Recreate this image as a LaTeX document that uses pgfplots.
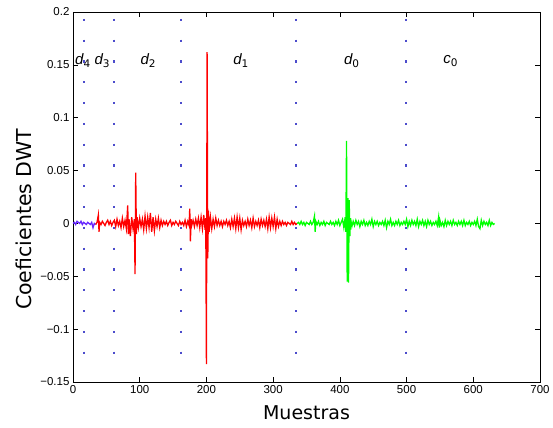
\documentclass[border=0pt]{standalone}
\usepackage{pgfplots}
\pgfplotsset{compat=1.18}
\usepackage{fontspec}
\setmainfont{Liberation Sans}
\newfontfamily\labfont{DejaVu Sans}
\definecolor{sigblue}{rgb}{0.4,0.15,1}
\definecolor{dotblue}{rgb}{0.3,0.3,0.8}
\begin{document}
\begin{tikzpicture}
\useasboundingbox (-73bp,-46bp) rectangle (480bp,382bp);
\begin{axis}[
  scale only axis, width=467bp, height=370bp,
  xmin=0, xmax=700, ymin=-0.15, ymax=0.2,
  xtick={0,100,...,700}, ytick={-0.15,-0.1,-0.05,0,0.05,0.1,0.15,0.2},
  yticklabels={−0.15,−0.1,−0.05,0,0.05,0.1,0.15,0.2},
  xticklabels={0,100,200,300,400,500,600,700},
  tick align=inside, tick pos=both, major tick length=5bp,
  tick style={black, line width=0.6bp},
  axis line style={line width=0.9bp},
  ticklabel style={font=\fontsize{11.5bp}{13bp}\selectfont},
  xlabel={\labfont\fontsize{19bp}{22bp}\selectfont Muestras},
  ylabel={\labfont\fontsize{20.5bp}{23bp}\selectfont Coeficientes DWT},
  xlabel style={yshift=-5bp},
  ylabel style={at={(ticklabel cs:0.44)}, yshift=2bp},
  clip=true,
]
% dotted separators
\foreach \xx in {17,62,162,334,499}{
  \edef\tmp{\noexpand\addplot[dotblue, line width=2.2bp, dash pattern=on 2.2bp off 18.6bp] coordinates {(\xx,0.1935) (\xx,-0.125)};}
  \tmp
}
% blue segment
\addplot[sigblue, line width=1.3bp] coordinates {
(0,0.000) (2,0.001) (4,-0.001) (6,0.002) (8,0.001) (10,0.000) (12,0.002) (14,-0.001) (16,0.001) (18,0.000) (20,-0.001) (22,0.001) (24,0.000) (26,-0.001) (28,0.001) (30,-0.004) (32,0.000) (34,-0.001)
};
% red segment
\addplot[red, line width=1.3bp] coordinates {
(34,-0.001) (36,0.001) (38,0.008) (39,-0.008) (40,0.001) (42,-0.001) (44,0.002) (46,0.000) (48,-0.002) (50,0.001) (52,0.003) (54,-0.001) (56,0.002) (58,-0.002) (60,0.001) (62,0.003) (64,-0.003) (66,0.004) (68,-0.002) (70,0.002) (72,-0.004) (74,0.005) (76,-0.003) (78,0.003) (80,-0.005) (82,0.017) (83,-0.010) (84,0.004) (86,-0.012) (88,0.006) (90,-0.005) (92,0.004) (93,-0.048) (94,0.048) (95,-0.010) (96,0.006) (98,-0.004) (100,0.005) (102,-0.003) (104,0.004) (106,-0.006) (108,0.007) (110,-0.005) (112,0.006) (114,-0.004) (116,0.010) (118,-0.008) (120,0.006) (122,-0.007) (124,0.004) (126,-0.003) (128,0.005) (130,-0.004) (132,0.003) (134,-0.002) (136,0.002) (138,-0.001) (140,0.002) (142,-0.002) (144,0.001) (146,0.003) (148,-0.002) (150,0.001) (152,-0.001) (154,0.002) (156,0.000) (158,-0.002) (160,0.002) (162,-0.001) (164,0.001) (166,-0.002) (168,0.003) (170,-0.003) (172,0.002) (174,-0.002) (175,0.014) (176,-0.017) (177,0.004) (178,-0.002) (180,0.003) (182,-0.003) (184,0.004) (186,-0.002) (188,0.005) (190,-0.004) (192,0.006) (194,-0.005) (196,0.008) (198,-0.006) (199,0.005) (200,-0.133) (201,0.162) (202,-0.033) (203,0.012) (204,-0.008) (206,0.006) (208,-0.005) (210,0.004) (212,-0.003) (214,0.005) (216,-0.002) (218,0.003) (220,-0.002) (222,0.002)
(224,-0.003) (226,0.002) (228,-0.001) (230,0.003) (232,-0.002) (234,0.002) (236,-0.004) (238,0.004) (240,-0.003) (242,0.005) (244,-0.005) (246,0.006) (248,-0.004) (250,0.005) (252,-0.006) (254,0.003) (256,-0.002) (258,0.002) (260,-0.003) (262,0.004) (264,-0.002) (266,0.003) (268,-0.004) (270,0.005) (272,-0.003) (274,0.002) (276,-0.002) (278,0.003) (280,-0.004) (282,0.004) (284,-0.002) (286,0.003) (288,-0.003) (290,0.004) (292,-0.005) (294,0.006) (296,-0.004) (298,0.005) (300,-0.003) (302,0.006) (304,-0.005) (306,0.004) (308,-0.003) (310,0.002) (312,-0.002) (314,0.002) (316,-0.001) (318,0.001) (320,-0.002) (322,0.001) (324,0.000) (326,-0.001) (328,0.002) (330,-0.001) (332,0.001) (334,-0.001) (336,0.000)
};
% green segment
\addplot[green, line width=1.3bp] coordinates {
(336,0.000) (338,0.001) (340,-0.001) (342,0.002) (344,-0.001) (346,0.001) (348,-0.002) (350,0.001) (352,0.000) (354,-0.001) (356,0.002) (358,-0.001) (360,0.001) (362,0.007) (363,-0.008) (364,0.002) (366,-0.001) (368,0.002) (370,-0.002) (372,0.001) (374,-0.001) (376,0.002) (378,-0.002) (380,0.001) (382,0.000) (384,-0.001) (386,0.002) (388,-0.001) (390,0.001) (392,-0.002) (394,0.002) (396,-0.001) (398,0.003) (400,-0.002) (402,0.001) (404,0.004) (406,-0.004) (408,0.006) (409,-0.008) (410,0.078) (411,-0.055) (412,0.024) (413,-0.056) (414,0.022) (415,-0.012) (416,0.005) (418,-0.003) (420,0.002) (422,-0.002) (424,0.003) (426,-0.001) (428,0.002) (430,-0.003) (432,0.002) (434,-0.001) (436,0.003) (438,-0.002) (440,0.001) (442,-0.002) (444,0.002) (446,-0.001) (448,0.004) (450,-0.003) (452,0.002) (454,-0.001) (456,0.002) (458,-0.002) (460,0.001) (462,-0.001) (464,0.002) (466,-0.002) (468,0.003) (470,-0.004) (472,0.002) (474,-0.001) (476,0.004) (478,-0.002) (480,0.001) (482,-0.002) (484,0.002) (486,-0.001) (488,0.003) (490,-0.002) (492,0.001) (494,-0.001) (496,0.002) (498,-0.001) (500,0.004) (502,-0.003) (504,0.002) (506,-0.002) (508,0.003) (510,-0.001) (512,0.002) (514,-0.002) (516,0.004) (518,-0.003) (520,0.002) (522,-0.001) (524,0.003) (526,-0.002) (528,0.002) (530,-0.003) (532,0.003) (534,-0.001) (536,0.002) (538,-0.002) (540,0.001) (542,-0.001) (544,0.002) (546,-0.002) (548,0.006) (549,-0.004) (550,0.003) (552,-0.002) (554,0.001) (556,-0.003) (558,0.003) (560,-0.002) (562,0.002) (564,-0.001) (566,0.002) (568,-0.002) (570,0.003) (572,-0.001) (574,0.001) (576,-0.002) (578,0.002) (580,-0.001) (582,0.002) (584,-0.002) (586,0.003) (588,-0.002) (590,0.001) (592,-0.001) (594,0.002) (596,-0.002) (598,0.001) (600,-0.001) (602,0.002) (604,-0.002) (606,0.004) (608,-0.003) (610,-0.005) (612,0.003) (614,-0.002) (616,0.002) (618,-0.001) (620,0.001) (622,-0.002) (624,0.003) (626,-0.002) (628,0.001) (630,-0.001) (632,0.000)
};
% band labels
\begin{scope}[every node/.style={font=\labfont\fontsize{15bp}{17bp}\selectfont}]
\node at (axis cs:15,0.154) {$\mathit{d}$\textsubscript{4}};
\node at (axis cs:44,0.154) {$\mathit{d}$\textsubscript{3}};
\node at (axis cs:113,0.154) {$\mathit{d}$\textsubscript{2}};
\node at (axis cs:252,0.154) {$\mathit{d}$\textsubscript{1}};
\node at (axis cs:418,0.154) {$\mathit{d}$\textsubscript{0}};
\node at (axis cs:566,0.154) {$\mathit{c}$\textsubscript{0}};
\end{scope}
\end{axis}
\end{tikzpicture}
\end{document}
